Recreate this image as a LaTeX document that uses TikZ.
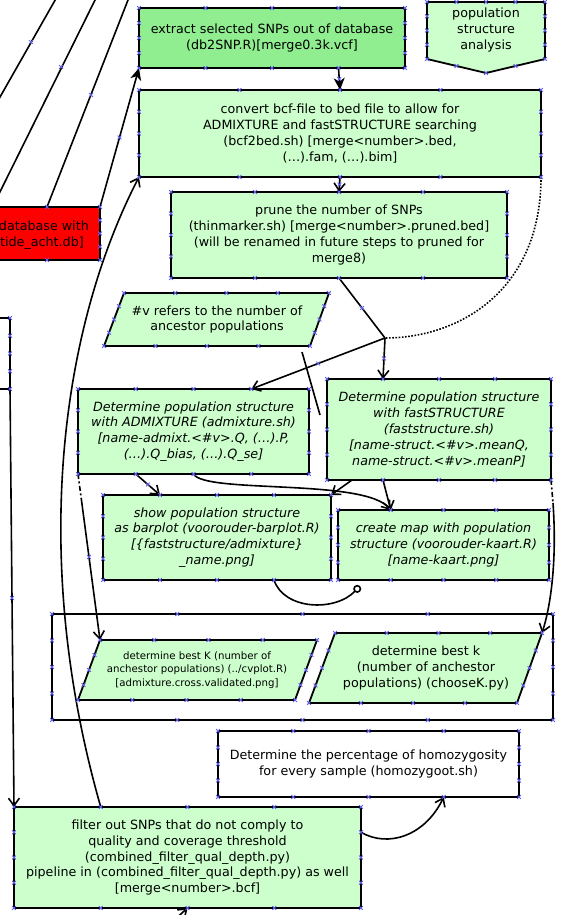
\documentclass[tikz,border=0pt]{standalone}
\usepackage{fontspec}
\setmainfont{DejaVu Sans}
\usetikzlibrary{arrows.meta,calc}

\definecolor{darkgr}{RGB}{144,238,144}
\definecolor{lightgr}{RGB}{204,255,204}
\definecolor{xblue}{RGB}{95,95,235}

\newcommand\mainsize{\fontsize{12.7}{15.8}\selectfont}
\newcommand\smallsize{\fontsize{10.2}{13.3}\selectfont}

\tikzset{
  box/.style={draw, line width=1.8pt, fill=lightgr, anchor=north west,
    inner sep=0pt, outer sep=0pt, align=center, font=\mainsize},
  outline/.style={draw, line width=1.8pt, fill=lightgr},
  label/.style={inner sep=0pt, align=center, font=\mainsize},
  conn/.style={line width=1.6pt},
  barb/.style={-{Straight Barb[length=7.5pt,width=11pt]}},
  solidtip/.style={-{Stealth[length=12pt,width=11pt,inset=3.5pt]}},
  dashdot/.style={dash pattern=on 5pt off 2.5pt on 2pt off 2.5pt},
  xmark/.style={draw=xblue, line width=0.85pt, solid},
  xmk/.pic={\draw[xmark] (-1.9,-1.9) -- (1.9,1.9) (-1.9,1.9) -- (1.9,-1.9);}
}

% connection-point crosses along the four sides of a shape
\newcommand\edgemarks[4]{%
  \foreach \mkA/\mkB in {#1/#2,#2/#3,#3/#4,#4/#1}{%
    \foreach \mkF in {0,0.25,0.5,0.75}{\pic at ($(\mkA)!\mkF!(\mkB)$) {xmk};}}}
\newcommand\boxmarks[1]{\edgemarks{#1.north west}{#1.north east}{#1.south east}{#1.south west}}

\begin{document}
\begin{tikzpicture}[x=1pt,y=-1pt]
\useasboundingbox (0,0) rectangle (560,915);
\clip (0,0) rectangle (560,915);

% ---------- boxes ----------
\node[box, fill=darkgr, minimum width=266, minimum height=60] (ext) at (139,8)
  {extract selected SNPs out of database\\(db2SNP.R)[merge0.3k.vcf]};

\coordinate (p1) at (427,2);  \coordinate (p2) at (545,2);
\coordinate (p3) at (545,59); \coordinate (p4) at (486,73);
\coordinate (p5) at (427,59);
\draw[outline] (p1) -- (p2) -- (p3) -- (p4) -- (p5) -- cycle;
\node[label] (pop) at (486,30) {population\\structure\\analysis};

\node[box, minimum width=402, minimum height=87] (conv) at (139,90)
  {convert bcf-file to bed file to allow for\\ADMIXTURE and fastSTRUCTURE searching\\(bcf2bed.sh) [merge<number>.bed,\\(…).fam, (…).bim]};

\node[box, minimum width=336, minimum height=86] (prune) at (171,192)
  {prune the number of SNPs\\(thinmarker.sh) [merge<number>.pruned.bed]\\(will be renamed in future steps to pruned for\\merge8)};

\node[box, fill=red, minimum width=212, minimum height=53] (red) at (-112,207) {};
\node[label, anchor=base east] (redA) at (89,230) {database with};
\node[label, anchor=base east] (redB) at (84,246) {otide\_acht.db]};

\node[box, fill=white, minimum width=200, minimum height=71] (lbox) at (-190,318) {};

\coordinate (v1) at (124,293); \coordinate (v2) at (329,293);
\coordinate (v3) at (310,346); \coordinate (v4) at (104,346);
\draw[outline] (v1) -- (v2) -- (v3) -- (v4) -- cycle;
\node[label] (vnote) at (217,319.5) {\#v refers to the number of\\ancestor populations};

\node[box, minimum width=231, minimum height=85, font=\mainsize\itshape] (admix) at (78,389)
  {Determine population structure\\with ADMIXTURE (admixture.sh)\\{}[name-admixt.<\#v>.Q, (…).P,\\(…).Q\_bias, (…).Q\_se]};

\node[box, minimum width=224, minimum height=101, font=\mainsize\itshape] (fast) at (327,379)
  {Determine population structure\\with fastSTRUCTURE\\(faststructure.sh)\\{}[name-struct.<\#v>.meanQ,\\name-struct.<\#v>.meanP]};

\node[box, minimum width=228, minimum height=85, font=\mainsize\itshape] (bar) at (103,495)
  {show population structure\\as barplot (voorouder-barplot.R)\\{}[\{faststructure/admixture\}\\\_name.png]};

\node[box, minimum width=211, minimum height=70, font=\mainsize\itshape] (kaart) at (338,510)
  {create map with population\\structure (voorouder-kaart.R)\\{}[name-kaart.png]};

\node[box, fill=white, minimum width=501, minimum height=106] (group) at (52,614) {};

\coordinate (k1) at (100,640); \coordinate (k2) at (317,640);
\coordinate (k3) at (295,700); \coordinate (k4) at (78,700);
\draw[outline] (k1) -- (k2) -- (k3) -- (k4) -- cycle;
\node[label, font=\smallsize] (bestKa) at (197,670)
  {determine best K (number of\\anchestor populations) (../cvplot.R)\\{}[admixture.cross.validated.png]};

\coordinate (m1) at (335,633); \coordinate (m2) at (542,633);
\coordinate (m3) at (517,703); \coordinate (m4) at (309,703);
\draw[outline] (m1) -- (m2) -- (m3) -- (m4) -- cycle;
\node[label] (bestKb) at (426,668)
  {determine best k\\(number of anchestor\\populations) (chooseK.py)};

\node[box, fill=white, minimum width=301, minimum height=66] (homo) at (218,731)
  {Determine the percentage of homozygosity\\for every sample (homozygoot.sh)};

\node[box, minimum width=347, minimum height=101] (filt) at (14,807)
  {filter out SNPs that do not comply to\\quality and coverage threshold\\(combined\_filter\_qual\_depth.py)\\pipeline in (combined\_filter\_qual\_depth.py) as well\\{}[merge<number>.bcf]};

% ---------- helper points ----------
\coordinate (J) at (385,338);
\coordinate (a1) at (62,-12);  \coordinate (a2) at (-8.5,112);
\coordinate (b1) at (101,-12); \coordinate (b2) at (-9,210);
\coordinate (c1) at (132.7,-12);
\coordinate (s1) at (302,352); \coordinate (s2) at (320,415);
\coordinate (bsrc) at (172,922);
\coordinate (extB3) at ($(ext.south west)!0.75!(ext.south east)$);
\coordinate (admixQ3) at ($(admix.north west)!0.75!(admix.north east)$);
\coordinate (fastQ1) at ($(fast.north west)!0.25!(fast.north east)$);
\coordinate (admixB1) at ($(admix.south west)!0.25!(admix.south east)$);
\coordinate (admixB2) at (admix.south);
\coordinate (barT1) at ($(bar.north west)!0.25!(bar.north east)$);
\coordinate (barB3) at ($(bar.south west)!0.75!(bar.south east)$);
\coordinate (kaartT1) at ($(kaart.north west)!0.25!(kaart.north east)$);
\coordinate (fastB1) at ($(fast.south west)!0.25!(fast.south east)$);
\coordinate (fastBx) at (352,480);
\coordinate (dA) at ($(admix.south west)!0.15!(k1)$);
\coordinate (dB) at (553,503);
\coordinate (filtT1) at ($(filt.north west)!0.25!(filt.north east)$);
\coordinate (filtR1) at ($(filt.north east)!0.25!(filt.south east)$);
\coordinate (homoB3) at ($(homo.south west)!0.75!(homo.south east)$);
\coordinate (ring) at (360,586);

% ---------- connectors ----------
\draw[conn] (a1) -- (a2);
\draw[conn] (b1) -- (b2);
\draw[conn] (c1) -- ($(red.north west)!0.75!(red.north east)$);
\draw[conn, solidtip] (red.north east) -- (ext.south west);
\draw[conn, solidtip] (extB3) -- (conv.north);
\draw[conn, barb] (conv.south) -- (prune.north);
\draw[conn] (prune.south) -- (J);
\draw[conn, line cap=butt, dash pattern=on 1.6pt off 1.6pt]
  (conv.south east) .. controls (541,290) and (460,338) .. (J);
\draw[conn, barb] (J) -- (fastQ1);
\draw[conn, barb] (J) -- (admixQ3);
\draw[conn] (s1) -- (s2);
\draw[conn, barb] (admixB1) -- (barT1);
\draw[conn, barb] (admixB2) .. controls (205,494) and (365,478) .. (kaartT1);
\draw[conn, barb] (fastBx) -- (bar.north east);
\draw[conn, barb] (fastB1) -- (kaartT1);
\draw[conn, -{Circle[open, length=8pt, width=8pt]}]
  (barB3) .. controls (284,610) and (335,612) .. (ring);
\draw[conn, dashdot] (admix.south west) -- (dA);
\draw[conn, barb] (dA) -- (k1);
\draw[conn, dashdot] (fast.south east) -- (dB);
\draw[conn, barb] (dB) .. controls (557,560) and (551,605) .. (m2);
\draw[conn, barb] (filtT1) .. controls (30,560) and (60,330) .. (conv.south west);
\draw[conn, barb] (lbox.south east) -- (filt.north west);
\draw[conn, barb] (filtR1) .. controls (388,848) and (425,836) .. (homoB3);
\draw[conn, barb] (bsrc) -- (filt.south);

% ---------- connection-point crosses ----------
\boxmarks{ext}
\boxmarks{conv}
\boxmarks{prune}
\boxmarks{red}
\boxmarks{lbox}
\boxmarks{admix}
\boxmarks{fast}
\boxmarks{bar}
\boxmarks{kaart}
\boxmarks{group}
\boxmarks{homo}
\boxmarks{filt}
\edgemarks{v1}{v2}{v3}{v4}
\edgemarks{k1}{k2}{k3}{k4}
\edgemarks{m1}{m2}{m3}{m4}
\foreach \mkF in {0,0.25,0.5,0.75}{
  \pic at ($(p1)!\mkF!(p2)$) {xmk};
  \pic at ($(p2)!\mkF!(p3)$) {xmk};
  \pic at ($(p5)!\mkF!(p1)$) {xmk};}
\foreach \mkF in {0,0.5}{
  \pic at ($(p3)!\mkF!(p4)$) {xmk};
  \pic at ($(p4)!\mkF!(p5)$) {xmk};}
\pic at (31,42) {xmk};
\pic at (61,67) {xmk};
\pic at (91,95) {xmk};
\pic at ($(red.north east)!0.5!(ext.south west)$) {xmk};
\pic at ($(extB3)!0.5!(conv.north)$) {xmk};
\pic at ($(conv.south)!0.5!(prune.north)$) {xmk};
\pic at ($(prune.south)!0.5!(J)$) {xmk};
\pic at ($(J)!0.5!(fastQ1)$) {xmk};
\pic at ($(J)!0.5!(admixQ3)$) {xmk};
\pic at ($(admixB1)!0.5!(barT1)$) {xmk};
\pic at ($(admix.south west)!0.5!(k1)$) {xmk};
\pic at ($(lbox.south east)!0.5!(filt.north west)$) {xmk};
\end{tikzpicture}
\end{document}
